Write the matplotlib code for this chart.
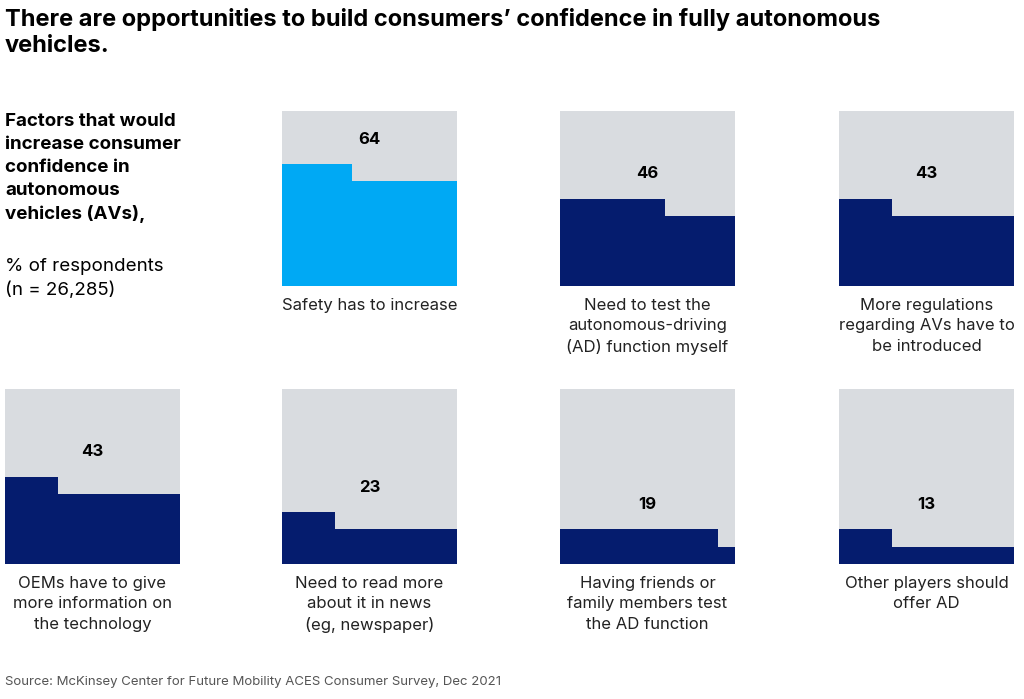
import matplotlib.pyplot as plt

# data
values = [64, 46, 43, 43, 23, 19, 13]
labels = ['Safety has to increase',
          'Need to test the\nautonomous-driving\n(AD) function myself',
          'More regulations\nregarding AVs have to\nbe introduced',
          'OEMs have to give\nmore information on\nthe technology',
          'Need to read more\nabout it in news\n(eg, newspaper)',
          'Having friends or\nfamily members test\nthe AD function',
          'Other players should\noffer AD']
colors = ['#00A9F4', '#051C6E', '#051C6E', '#051C6E', '#051C6E', '#051C6E', '#051C6E']

W, H = 1024, 699
# square panels, pixel positions (left, top)
slots = [(282, 111), (560, 111), (839, 111),
         (5, 389), (282, 389), (560, 389), (839, 389)]
size = 175

plt.rcParams['font.family'] = ['Inter', 'DejaVu Sans']
fig = plt.figure(figsize=(W / 100, H / 100), dpi=100)

fig.text(5 / W, 1 - 8 / H, 'There are opportunities to build consumers\u2019 confidence in fully autonomous\nvehicles.',
         fontsize=17, fontweight='bold', va='top', ha='left', linespacing=1.25)
fig.text(5 / W, 1 - 113 / H, 'Factors that would\nincrease consumer\nconfidence in\nautonomous\nvehicles (AVs),',
         fontsize=13.5, fontweight='bold', va='top', ha='left', linespacing=1.45)
fig.text(5 / W, 1 - 258 / H, '% of respondents\n(n = 26,285)',
         fontsize=13.5, va='top', ha='left', linespacing=1.45)
fig.text(5 / W, 1 - 676 / H, 'Source: McKinsey Center for Future Mobility ACES Consumer Survey, Dec 2021',
         fontsize=9.5, color='#555555', va='top', ha='left')

for v, lab, c, (x, y) in zip(values, labels, colors, slots):
    ax = fig.add_axes([x / W, 1 - (y + size) / H, size / W, size / H])
    full, rem = divmod(v, 10)
    ax.bar(0, 10, width=10, align='edge', color='#D9DCE0')
    ax.bar(0, full, width=10, align='edge', color=c)
    if rem:
        ax.bar(0, 1, width=rem, bottom=full, align='edge', color=c)
    top = full + (1 if rem else 0)
    ax.text(5, top + 1.4, str(v), ha='center', va='center', fontsize=12, fontweight='bold')
    ax.set_xlim(0, 10)
    ax.set_ylim(0, 10)
    ax.axis('off')
    fig.text((x + size / 2) / W, 1 - (y + size + 12) / H, lab, ha='center', va='top',
             fontsize=12, linespacing=1.45, color='#222222')

fig.savefig('out.png', dpi=100)
